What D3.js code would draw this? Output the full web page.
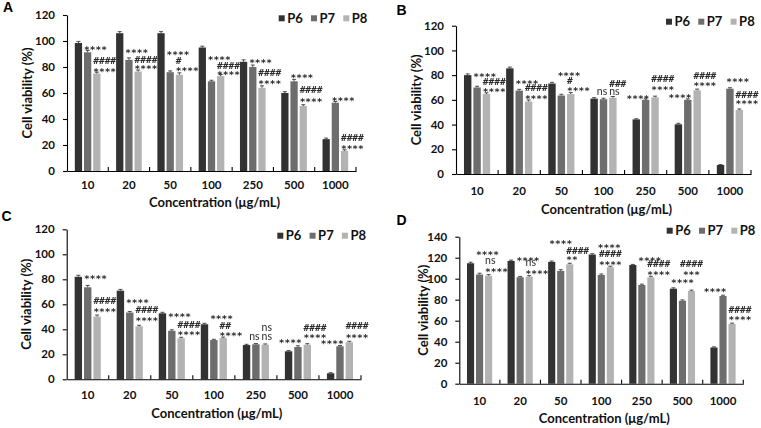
<!DOCTYPE html>
<html><head><meta charset="utf-8">
<script src="https://cdn.jsdelivr.net/npm/d3@7/dist/d3.min.js"></script>
<style>body{margin:0;background:#fff}svg{display:block}.ann{opacity:0.995;will-change:opacity}</style>
</head><body>
<svg id="chart" width="761" height="428"></svg>
<script>
// ---------- data ----------
const categories = ["10","20","50","100","250","500","1000"];
const seriesNames = ["P6","P7","P8"];
const ticksABC = [0,20,40,60,80,100,120];
const ticksD = [0,20,40,60,80,100,120,140];
const xTitle = "Concentration (\u03bcg/mL)";
const yTitle = "Cell viability (%)";

const A_P6 = [98.5,106,106,95,84,60,24.5];
const A_P7 = [91.3,85.5,76,69,80,69,52.5];
const A_P8 = [75,76.5,74,73,64,50,15.5];
const B_P6 = [80,85.5,73.2,61,44.2,40.2,7.3];
const B_P7 = [70,67.5,63.5,60.5,60,60,69];
const B_P8 = [64.7,58.7,64.7,61.7,62,67.7,51.8];
const C_P6 = [82,70.9,52.8,44,27.4,22.4,4.8];
const C_P7 = [73.6,53.4,38.8,31.4,28,25.8,26.4];
const C_P8 = [50.2,42.4,32.8,33,27.7,27.7,29.6];
const D_P6 = [114.7,116.9,116,123,113,90.5,34.5];
const D_P7 = [104,101.4,107.4,103.5,94,79,83.5];
const D_P8 = [102.9,101.9,113.7,110.9,101.3,88.3,56.9];

const errA = [[1.2,1.2,1.2,1,1.5,1,0.8],[1.5,1.5,1,0.8,1.5,1.5,1],[1,1.2,1.5,1.2,1.5,1,0.8]];
const errB = [[1,1,1,0.8,0.5,0.8,0.3],[1,1,1,0.8,0.8,0.8,0.8],[1,1.2,1.2,1,1,1,0.8]];
const errC = [[1.2,1,0.8,0.8,0.6,0.6,0.5],[1.5,0.8,0.8,0.6,0.6,1,0.6],[1.2,0.8,0.8,0.8,0.6,0.8,0.8]];
const errD = [[1,0.8,0.8,0.8,0.6,0.8,0.6],[1.2,0.8,1.2,1,0.8,0.8,0.8],[1,1,1,1,1,0.8,0.8]];

// annotations: [category index, series index, text, value at text centre, alignment]
const annA = [
 [0,1,"****",95.4,"l"],[0,2,"####",84.6,"l"],[0,2,"****",78.5,"l"],
 [1,1,"****",93,"l"],[1,2,"####",85.4,"l"],[1,2,"****",80.2,"l"],
 [2,1,"****",91,"l"],[2,2,"#",84.8,"l"],[2,2,"****",79.2,"l"],
 [3,1,"****",87.7,"l"],[3,2,"####",81.5,"l"],[3,2,"****",76.2,"l"],
 [4,1,"****",84.8,"l"],[4,2,"####",75.6,"l"],[4,2,"****",68.7,"l"],
 [5,1,"****",73.8,"l"],[5,2,"####",62.8,"l"],[5,2,"****",55,"l"],
 [6,1,"****",55.9,"l"],[6,2,"####",25.6,"l"],[6,2,"****",18.7,"l"]];
const annB = [
 [0,1,"****",80.9,"l"],[0,2,"####",75.2,"l"],[0,2,"****",68.5,"l"],
 [1,1,"****",75.2,"l"],[1,2,"####",69.8,"l"],[1,2,"****",62.5,"l"],
 [2,1,"****",81.5,"l"],[2,2,"#",75.5,"l"],[2,2,"****",69.3,"l"],
 [3,1,"ns",66.1,"r"],[3,2,"###",73.4,"l"],[3,2,"ns",66.1,"l"],
 [4,1,"****",62.5,"r"],[4,2,"####",76.9,"l"],[4,2,"****",69.8,"l"],
 [5,1,"****",63.3,"r"],[5,2,"####",79.3,"l"],[5,2,"****",73.4,"l"],
 [6,1,"****",76.6,"l"],[6,2,"####",63.9,"l"],[6,2,"****",58.5,"l"]];
const annC = [
 [0,1,"****",82,"l"],[0,2,"####",63.4,"l"],[0,2,"****",56,"l"],
 [1,1,"****",63.4,"l"],[1,2,"####",56,"l"],[1,2,"****",48.8,"l"],
 [2,1,"****",52.2,"l"],[2,2,"####",44,"l"],[2,2,"****",37.6,"l"],
 [3,1,"****",50,"l"],[3,2,"##",43.4,"l"],[3,2,"****",36.8,"l"],
 [4,1,"ns",33.6,"r"],[4,2,"ns",40.8,"l"],[4,2,"ns",33.6,"l"],
 [5,1,"****",30.9,"r"],[5,2,"####",41.6,"l"],[5,2,"****",34.9,"l"],
 [6,1,"****",30.1,"r"],[6,2,"####",42.9,"l"],[6,2,"****",35.4,"l"]];
const annD = [
 [0,1,"****",125.1,"l"],[0,2,"ns",116.9,"l"],[0,2,"****",109,"l"],
 [1,1,"****",119.4,"l"],[1,2,"ns",114.7,"l"],[1,2,"****",107.3,"l"],
 [2,1,"****",135.2,"c"],[2,2,"####",126.7,"l"],[2,2,"**",120,"l"],
 [3,1,"****",132.1,"l"],[3,2,"####",123.5,"c"],[3,2,"****",115.6,"c"],
 [4,1,"****",119.4,"l"],[4,2,"####",114,"l"],[4,2,"****",106.4,"l"],
 [5,1,"****",98.8,"c"],[5,2,"####",114.7,"c"],[5,2,"***",106.4,"c"],
 [6,1,"****",89.9,"r"],[6,2,"####",70.2,"l"],[6,2,"****",62.9,"l"]];

// ---------- styles / layout ----------
const colors = ["#323232","#6d6d6d","#b3b3b3"];
const FONT = "Lato, 'Open Sans', sans-serif";
const panels = [
 {letter:"A", vals:[A_P6,A_P7,A_P8], err:errA, ann:annA, ticks:ticksABC,
  x0:67, x1:356, yT:15, yB:171, lx:3, ly:12, legX:278.7, legY:18.3, tickPad:10, titleY:207, yTitleX:27},
 {letter:"B", vals:[B_P6,B_P7,B_P8], err:errB, ann:annB, ticks:ticksABC,
  x0:456, x1:751, yT:25.7, yB:174, lx:396.5, ly:15, legX:666, legY:21.7, tickPad:13, titleY:214, yTitleX:416.7},
 {letter:"C", vals:[C_P6,C_P7,C_P8], err:errC, ann:annC, ticks:ticksABC,
  x0:66.7, x1:361, yT:229.3, yB:379.3, lx:1.5, ly:221, legX:277.3, legY:235.7, tickPad:12, titleY:418, yTitleX:26},
 {letter:"D", vals:[D_P6,D_P7,D_P8], err:errD, ann:annD, ticks:ticksD,
  x0:459.3, x1:743.3, yT:236.7, yB:383.7, lx:396.5, ly:225, legX:666.7, legY:230.7, tickPad:13, titleY:423, yTitleX:423}
];

const svg = d3.select("#chart");

panels.forEach(p => {
  const g = svg.append("g");
  const maxV = d3.max(p.ticks);
  const y = d3.scaleLinear().domain([0, maxV]).range([p.yB, p.yT]);
  const x = d3.scaleBand().domain(categories).range([p.x0, p.x1]).padding(0);
  const xs = d3.scaleBand().domain(seriesNames).range([0, x.bandwidth()])
               .paddingInner(0.21).paddingOuter(0.85);

  // bars
  seriesNames.forEach((s, si) => {
    g.append("g").selectAll("rect").data(p.vals[si]).join("rect")
      .attr("x", (d,i) => x(categories[i]) + xs(s))
      .attr("y", d => y(d))
      .attr("width", xs.bandwidth())
      .attr("height", d => y(0) - y(d))
      .attr("fill", colors[si]);
    // error bars
    const eg = g.append("g").attr("stroke", "#3a3a3a").attr("stroke-width", 0.9);
    p.vals[si].forEach((d, i) => {
      const cx = x(categories[i]) + xs(s) + xs.bandwidth()/2;
      const e = p.err[si][i];
      eg.append("line").attr("x1", cx).attr("x2", cx).attr("y1", y(d+e)).attr("y2", y(d));
      eg.append("line").attr("x1", cx-2).attr("x2", cx+2).attr("y1", y(d+e)).attr("y2", y(d+e));
    });
  });

  // y axis
  const ya = g.append("g").attr("transform", `translate(${p.x0},0)`)
    .call(d3.axisLeft(y).tickValues(p.ticks).tickSize(4).tickPadding(8).tickSizeOuter(0));
  ya.select(".domain").attr("stroke", "#000").attr("stroke-width", 1.1);
  ya.selectAll(".tick line").attr("stroke", "#000").attr("stroke-width", 1.1);
  ya.selectAll("text").attr("font-family", FONT).attr("font-weight", "bold")
    .attr("font-size", "11.5px").attr("fill", "#111");

  // x axis
  const xa = g.append("g").attr("transform", `translate(0,${p.yB})`)
    .call(d3.axisBottom(x).tickSize(0).tickPadding(p.tickPad).tickSizeOuter(0));
  xa.select(".domain").attr("stroke", "#000").attr("stroke-width", 1.1);
  xa.selectAll("text").attr("font-family", FONT).attr("font-weight", "bold")
    .attr("font-size", "11.5px").attr("fill", "#111");
  // inward ticks at band boundaries
  categories.forEach((c, i) => {
    const bx = x(c) + x.step();
    g.append("line").attr("x1", bx).attr("x2", bx)
      .attr("y1", p.yB).attr("y2", p.yB - 4)
      .attr("stroke", "#000").attr("stroke-width", 1.1);
  });

  // axis titles
  g.append("text").attr("x", (p.x0 + p.x1)/2 + 3).attr("y", p.titleY)
    .attr("text-anchor", "middle").attr("font-family", FONT).attr("font-weight", "bold")
    .attr("font-size", "13px").attr("fill", "#111").text(xTitle);
  g.append("text")
    .attr("transform", `translate(${p.yTitleX},${(p.yT + p.yB)/2}) rotate(-90)`)
    .attr("dy", "0.35em")
    .attr("text-anchor", "middle").attr("font-family", FONT).attr("font-weight", "bold")
    .attr("font-size", "13px").attr("fill", "#111").text(yTitle);

  // panel letter
  g.append("text").attr("x", p.lx).attr("y", p.ly)
    .attr("font-family", "'Liberation Sans', Arial, sans-serif").attr("font-weight", "bold")
    .attr("font-size", "14px").attr("fill", "#000").text(p.letter);

  // legend
  seriesNames.forEach((s, si) => {
    const lx = p.legX + si * 32.3;
    g.append("rect").attr("x", lx).attr("y", p.legY - 3).attr("width", 6).attr("height", 6)
      .attr("fill", colors[si]);
    g.append("text").attr("x", lx + 8.5).attr("y", p.legY + 4.7)
      .attr("font-family", FONT).attr("font-weight", "bold").attr("font-size", "13px")
      .attr("fill", "#111").text(s);
  });

  // significance annotations
  const ag = g.append("g").attr("class", "ann");
  p.ann.forEach(([ci, si, txt, v, al]) => {
    const bl = x(categories[ci]) + xs(seriesNames[si]);
    const bw = xs.bandwidth();
    const isNs = txt === "ns";
    const fs = isNs ? 10.5 : 9.5;
    const k = isNs ? 0.26 : (txt[0] === "*" ? 0.59 : 0.365);
    const t = ag.append("text")
      .attr("y", y(v) + k * fs)
      .attr("font-family", isNs ? FONT : "'DejaVu Sans Mono', monospace")
      .attr("font-weight", isNs ? "normal" : "bold")
      .attr("font-size", fs + "px").attr("fill", "#2a2a2a").text(txt);
    let tx = bl, anchor = "start";
    if (al === "c") { tx = bl + bw/2; anchor = "middle"; }
    if (al === "r") { tx = bl + bw; anchor = "end"; }
    t.attr("x", tx).attr("text-anchor", anchor);
  });
});
</script>
</body></html>
